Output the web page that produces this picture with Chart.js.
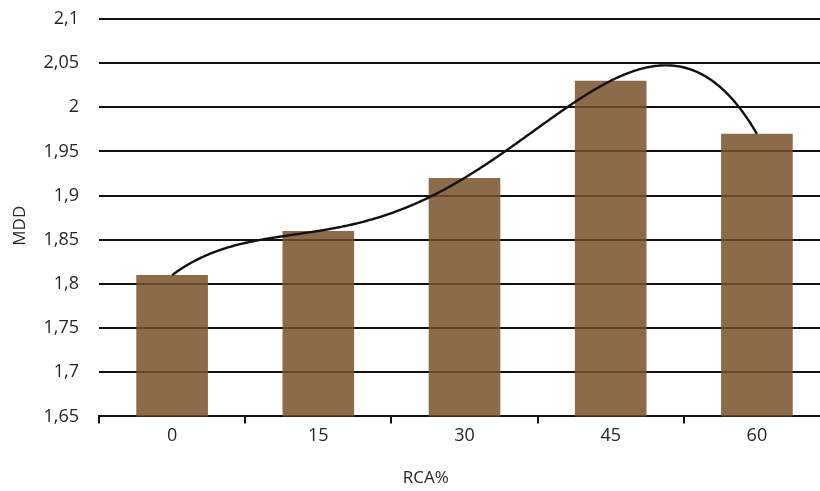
<!DOCTYPE html>
<html>
<head>
<meta charset="utf-8">
<script src="https://cdn.jsdelivr.net/npm/chart.js@4/dist/chart.umd.min.js"></script>
<style>
  html, body { margin: 0; padding: 0; background: #fff; overflow: hidden; }
  #wrap { width: 834px; height: 491px; position: relative; }
</style>
</head>
<body>
<div id="wrap"><canvas id="c" width="834" height="491"></canvas></div>
<script>
// RCA replacement levels (%)
const categories = ['0', '15', '30', '45', '60'];
// Maximum dry density per mix
const mddValues = [1.81, 1.86, 1.92, 2.03, 1.97];
// Y axis range and step
const yMin = 1.65;
const yMax = 2.1;
const yStep = 0.05;
// Polynomial trendline order
const trendOrder = 4;
// Axis titles
const xTitle = 'RCA%';
const yTitle = 'MDD';

const fontFamily = '"Open Sans", "Liberation Sans", sans-serif';
const textColor = '#262626';

// Least-squares polynomial fit: returns coefficients c[0..order]
function polyFit(xs, ys, order) {
  const n = order + 1;
  const A = Array.from({ length: n }, () => new Array(n + 1).fill(0));
  for (let r = 0; r < n; r++) {
    for (let c = 0; c < n; c++) {
      A[r][c] = xs.reduce((s, x) => s + Math.pow(x, r + c), 0);
    }
    A[r][n] = xs.reduce((s, x, i) => s + ys[i] * Math.pow(x, r), 0);
  }
  for (let i = 0; i < n; i++) {
    let p = i;
    for (let k = i + 1; k < n; k++) if (Math.abs(A[k][i]) > Math.abs(A[p][i])) p = k;
    [A[i], A[p]] = [A[p], A[i]];
    for (let k = i + 1; k < n; k++) {
      const f = A[k][i] / A[i][i];
      for (let j = i; j <= n; j++) A[k][j] -= f * A[i][j];
    }
  }
  const coef = new Array(n).fill(0);
  for (let i = n - 1; i >= 0; i--) {
    let s = A[i][n];
    for (let j = i + 1; j < n; j++) s -= A[i][j] * coef[j];
    coef[i] = s / A[i][i];
  }
  return coef;
}

// Draws a polynomial trendline over the bars, spanning first to last category
const trendlinePlugin = {
  id: 'trendline',
  afterDatasetsDraw(chart) {
    const xs = mddValues.map((_, i) => i + 1);
    const coef = polyFit(xs, mddValues, trendOrder);
    const evalAt = (x) => coef.reduce((s, c, k) => s + c * Math.pow(x, k), 0);
    const xScale = chart.scales.x;
    const yScale = chart.scales.y;
    const x0 = xScale.getPixelForValue(0);
    const x1 = xScale.getPixelForValue(mddValues.length - 1);
    const ctx = chart.ctx;
    ctx.save();
    ctx.beginPath();
    const steps = Math.ceil(x1 - x0);
    for (let s = 0; s <= steps; s++) {
      const t = 1 + (mddValues.length - 1) * s / steps;
      const px = x0 + (x1 - x0) * s / steps;
      const py = yScale.getPixelForValue(evalAt(t));
      if (s === 0) ctx.moveTo(px, py); else ctx.lineTo(px, py);
    }
    ctx.strokeStyle = '#111';
    ctx.lineWidth = 2.4;
    ctx.lineJoin = 'round';
    ctx.stroke();
    ctx.restore();
  }
};

// Axis titles placed in the reserved margins
const axisTitlesPlugin = {
  id: 'axisTitles',
  afterDraw(chart) {
    const { ctx, chartArea } = chart;
    ctx.save();
    ctx.fillStyle = textColor;
    ctx.font = `17px ${fontFamily}`;
    ctx.textAlign = 'center';
    ctx.textBaseline = 'middle';
    ctx.fillText(xTitle, chartArea.left + chartArea.width * 0.447, 478);
    ctx.translate(20, (chartArea.top + chartArea.bottom) / 2 + 8);
    ctx.rotate(-Math.PI / 2);
    ctx.fillText(yTitle, 0, 0);
    ctx.restore();
  }
};

new Chart(document.getElementById('c'), {
  type: 'bar',
  data: {
    labels: categories,
    datasets: [
      {
        label: 'MDD',
        data: mddValues,
        backgroundColor: 'rgba(120,81,43,0.85)',
        borderWidth: 0,
        barPercentage: 0.49,
        categoryPercentage: 1
      }
    ]
  },
  plugins: [trendlinePlugin, axisTitlesPlugin],
  options: {
    responsive: false,
    animation: false,
    layout: { padding: { left: 0, right: 4, top: 0, bottom: 42 } },
    plugins: {
      legend: { display: false },
      tooltip: { enabled: false }
    },
    scales: {
      x: {
        grid: {
          offset: true,
          drawOnChartArea: false,
          drawTicks: true,
          tickLength: 7,
          color: '#111',
          lineWidth: 2
        },
        border: { display: true, color: '#111', width: 2 },
        ticks: {
          color: textColor,
          font: { family: fontFamily, size: 18 },
          padding: 2
        }
      },
      y: {
        min: yMin,
        max: yMax,
        afterFit(scale) {
          scale.width = 99;
          scale.paddingTop = 19;
          scale.paddingBottom = 0;
        },
        grid: {
          color: '#111',
          lineWidth: 2,
          drawTicks: false
        },
        border: { display: false },
        ticks: {
          stepSize: yStep,
          color: textColor,
          padding: 20,
          font: { family: fontFamily, size: 18 },
          callback: (v) => String(Math.round(v * 100) / 100).replace('.', ',')
        }
      }
    }
  }
});
</script>
</body>
</html>
